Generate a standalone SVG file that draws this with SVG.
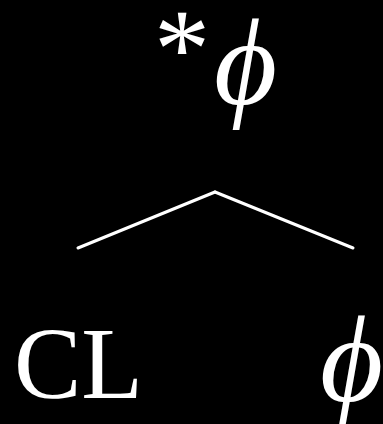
<svg xmlns="http://www.w3.org/2000/svg" width="383" height="424" viewBox="0 0 383 424">
<style>
.t{fill:#fff;font-family:"Liberation Serif",serif;}
.phi{fill:#fff;font-family:"Liberation Serif",serif;font-style:italic;font-size:122px;}
.e{stroke:#fff;stroke-width:3;fill:none;stroke-linecap:round;}
</style>
<rect width="383" height="424" fill="#000"/>
<g id="root">
<text class="t" x="154" y="86" font-size="112">*</text>
<text class="phi" x="214" y="104">ϕ</text>
</g>
<g id="connectors">
<line class="e" x1="215" y1="192" x2="78" y2="248"/>
<line class="e" x1="215" y1="192" x2="353" y2="248"/>
</g>
<g id="cl"><text class="t" x="14" y="398" font-size="101" textLength="129" lengthAdjust="spacingAndGlyphs">CL</text></g>
<g id="phi2"><text class="phi" x="320" y="401">ϕ</text></g>
</svg>
